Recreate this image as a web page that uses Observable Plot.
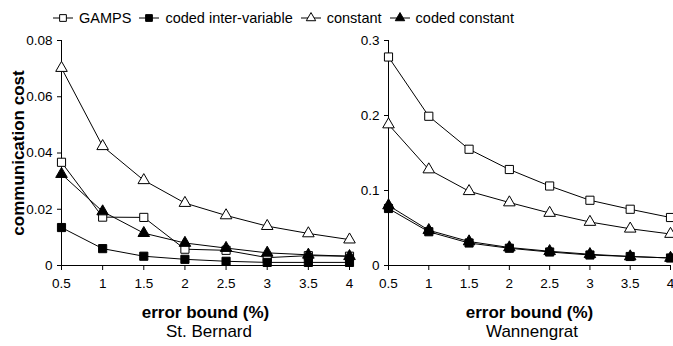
<!DOCTYPE html>
<html>
<head>
<meta charset="utf-8">
<script src="https://cdn.jsdelivr.net/npm/d3@7"></script>
<script src="https://cdn.jsdelivr.net/npm/@observablehq/plot@0.6"></script>
<style>
  body { margin: 0; background: white; }
  #wrap { position: relative; width: 673px; height: 346px; background: white; font-family: "Liberation Sans", Arial, sans-serif; color: black; overflow: hidden; }
  .chart { position: absolute; top: 30px; }
  .chart svg { overflow: visible; }
  .chart g[aria-label="x-axis label"] text, .chart g[aria-label="y-axis label"] text { font-weight: bold; font-size: 17px; }
  #legend { position: absolute; left: 53px; top: 10px; display: flex; align-items: center; font-size: 14.5px; white-space: nowrap; }
  #legend .item { display: flex; align-items: center; margin-right: 8px; }
  #legend svg { margin-right: 6px; }
  .caption { position: absolute; top: 322px; font-size: 17px; text-align: center; width: 200px; }
</style>
</head>
<body>
<div id="wrap">
  <div id="legend"></div>
  <div id="left" class="chart" style="left:0px"></div>
  <div id="right" class="chart" style="left:333px"></div>
  <div class="caption" style="left:109px">St. Bernard</div>
  <div class="caption" style="left:432px">Wannengrat</div>
</div>
<script>
// Data
const errorBounds = [0.5, 1, 1.5, 2, 2.5, 3, 3.5, 4];
const seriesNames = ["GAMPS", "coded inter-variable", "constant", "coded constant"];

// St. Bernard
const stbGAMPS      = [0.0367, 0.0172, 0.0171, 0.0058, 0.0054, 0.0028, 0.0035, 0.0033];
const stbCodedInter = [0.0135, 0.0060, 0.0033, 0.0022, 0.0015, 0.0011, 0.0011, 0.0011];
const stbConstant   = [0.0702, 0.0424, 0.0303, 0.0222, 0.0178, 0.0140, 0.0114, 0.0092];
const stbCodedConst = [0.0325, 0.0192, 0.0115, 0.0080, 0.0062, 0.0045, 0.0038, 0.0033];

// Wannengrat
const wanGAMPS      = [0.278, 0.199, 0.155, 0.128, 0.106, 0.087, 0.075, 0.064];
const wanCodedInter = [0.076, 0.045, 0.030, 0.023, 0.018, 0.014, 0.012, 0.010];
const wanConstant   = [0.188, 0.128, 0.099, 0.084, 0.070, 0.058, 0.049, 0.042];
const wanCodedConst = [0.080, 0.047, 0.032, 0.024, 0.019, 0.015, 0.012, 0.010];

const stbYTicks = [0, 0.02, 0.04, 0.06, 0.08];
const wanYTicks = [0, 0.1, 0.2, 0.3];

const styles = {
  "GAMPS": {symbol: "square", fill: "white", r: 4.6},
  "coded inter-variable": {symbol: "square", fill: "black", r: 4.6},
  "constant": {symbol: "triangle", fill: "white", r: 4.3},
  "coded constant": {symbol: "triangle", fill: "black", r: 4.3}
};

function rows(arrs) {
  const out = [];
  seriesNames.forEach((s, i) => errorBounds.forEach((x, j) => out.push({series: s, x, y: arrs[i][j]})));
  return out;
}

function makeChart({data, width, marginLeft, marginRight, yDomain, yTicks, yLabel}) {
  const marks = [
    Plot.ruleY([0], {stroke: "black"}),
    Plot.ruleX([0.5], {stroke: "black"}),
    Plot.axisX(errorBounds, {tickSize: 5, tickPadding: 8, tickFormat: d => String(d), fontSize: 13.5,
      label: "error bound (%)", labelAnchor: "center", labelArrow: "none", labelOffset: 52}),
    Plot.axisY(yTicks, {tickSize: 4, tickPadding: 5, tickFormat: d3.format("~g"), fontSize: 13.5,
      label: yLabel, labelAnchor: "center", labelArrow: "none", labelOffset: 50})
  ];
  for (const s of seriesNames) {
    marks.push(Plot.line(data.filter(d => d.series === s), {x: "x", y: "y", stroke: "black", strokeWidth: 1}));
  }
  for (const s of seriesNames) {
    const st = styles[s];
    marks.push(Plot.dot(data.filter(d => d.series === s), {x: "x", y: "y", symbol: st.symbol, r: st.r, fill: st.fill, stroke: "black", strokeWidth: 1}));
  }
  return Plot.plot({
    width, height: 290,
    marginTop: 10, marginBottom: 55, marginLeft, marginRight,
    style: {fontFamily: '"Liberation Sans", Arial, sans-serif', fontSize: "13.5px", background: "transparent", color: "black"},
    x: {domain: [0.5, 4], labelArrow: "none"},
    y: {domain: yDomain, labelArrow: "none"},
    marks
  });
}

document.getElementById("left").appendChild(makeChart({
  data: rows([stbGAMPS, stbCodedInter, stbConstant, stbCodedConst]),
  width: 360, marginLeft: 61, marginRight: 11, yDomain: [0, 0.08], yTicks: stbYTicks, yLabel: "communication cost"
}));
document.getElementById("right").appendChild(makeChart({
  data: rows([wanGAMPS, wanCodedInter, wanConstant, wanCodedConst]),
  width: 340, marginLeft: 55, marginRight: 3, yDomain: [0, 0.3], yTicks: wanYTicks, yLabel: null
}));

// Legend
const legend = d3.select("#legend");
for (const s of seriesNames) {
  const st = styles[s];
  const item = legend.append("div").attr("class", "item");
  const svg = item.append("svg").attr("width", 20).attr("height", 12);
  svg.append("line").attr("x1", 0).attr("x2", 20).attr("y1", 6).attr("y2", 6).attr("stroke", "black");
  svg.append("path").attr("transform", "translate(10,6)")
    .attr("d", d3.symbol(st.symbol === "square" ? d3.symbolSquare : d3.symbolTriangle, Math.PI * (st.r - 0.8) ** 2)())
    .attr("fill", st.fill).attr("stroke", "black");
  item.append("span").text(s);
}
</script>
</body>
</html>
